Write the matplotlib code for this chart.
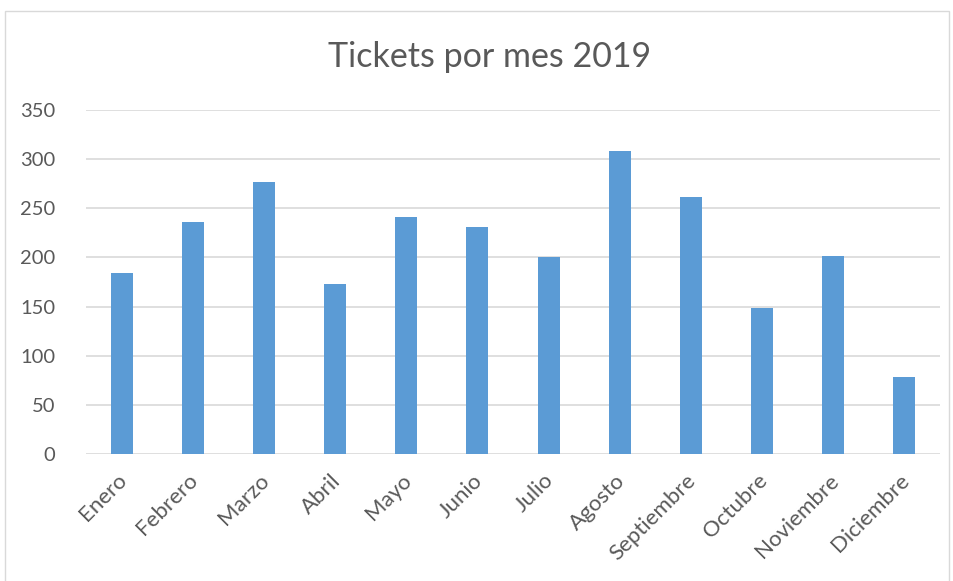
import matplotlib.pyplot as plt
from matplotlib.patches import Rectangle
from matplotlib.transforms import ScaledTranslation

months = ['Enero', 'Febrero', 'Marzo', 'Abril', 'Mayo', 'Junio', 'Julio',
          'Agosto', 'Septiembre', 'Octubre', 'Noviembre', 'Diciembre']
tickets = [184, 236, 277, 173, 241, 231, 200, 308, 261, 149, 201, 78]
yticks = [0, 50, 100, 150, 200, 250, 300, 350]

plt.rcParams['font.family'] = ['Lato', 'DejaVu Sans']
W, H = 954, 581
fig = plt.figure(figsize=(W / 100, H / 100), dpi=100)
ax = fig.add_axes([86 / W, 1 - 454 / H, (940 - 86) / W, (454 - 110) / H])

x = range(len(months))
ax.bar(list(x), tickets, width=0.31, color='#5b9bd5', zorder=3)
ax.set_xlim(-0.5, len(months) - 0.5)
ax.set_ylim(0, 350)
ax.set_yticks(yticks)
ax.set_xticks(list(x), months, rotation=45, ha='right', va='top',
              rotation_mode='anchor')
ax.tick_params(axis='x', length=0, labelsize=16, labelcolor='#595959', pad=6)
ax.tick_params(axis='y', length=0, labelsize=14.5, labelcolor='#595959', pad=22)
# move the rotated month labels a little, as in the reference
shift = ScaledTranslation(-5 / 100, -8 / 100, fig.dpi_scale_trans)
for lab in ax.get_xticklabels():
    lab.set_transform(lab.get_transform() + shift)
ax.grid(axis='y', color='#d9d9d9', linewidth=1.2, zorder=0)
for s in ax.spines.values():
    s.set_visible(False)

fig.text(490 / W, 1 - 57 / H, 'Tickets por mes 2019', ha='center', va='center',
         fontsize=24.5, color='#595959')
fig.patches.append(Rectangle((5 / W, -0.01), 944 / W, 1 - 11 / H + 0.01,
                             transform=fig.transFigure, fill=False,
                             edgecolor='#d9d9d9', linewidth=1))
fig.savefig('out.png', dpi=100)
